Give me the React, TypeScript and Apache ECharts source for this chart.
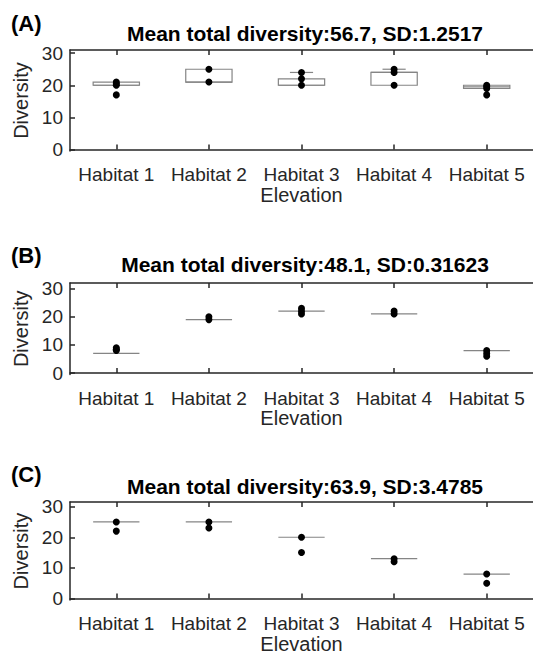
import React, { useEffect, useRef } from "react";
import * as echarts from "echarts";

const habitats = ["Habitat 1", "Habitat 2", "Habitat 3", "Habitat 4", "Habitat 5"];
const yTickValues = [0, 10, 20, 30];
const panelLetters = ["(A)", "(B)", "(C)"];
const panelTitles = [
  "Mean total diversity:56.7, SD:1.2517",
  "Mean total diversity:48.1, SD:0.31623",
  "Mean total diversity:63.9, SD:3.4785",
];
const xAxisName = "Elevation";
const yAxisName = "Diversity";

// box: [lower whisker, Q1, median, Q3, upper whisker]
const boxesA = [
  [20, 20, 20, 21, 21],
  [21, 21, 21, 25, 25],
  [20, 20, 20, 22, 24],
  [20, 20, 24, 24, 25],
  [19, 19, 19.5, 20, 20],
];
const pointsA = [
  [21, 20.5, 20, 17],
  [25, 21],
  [24, 22, 20],
  [25, 24, 20],
  [20, 19.5, 19, 17],
];
const boxesB = [
  [7, 7, 7, 7, 7],
  [19, 19, 19, 19, 19],
  [22, 22, 22, 22, 22],
  [21, 21, 21, 21, 21],
  [8, 8, 8, 8, 8],
];
const pointsB = [
  [9, 8.5, 8],
  [20, 19],
  [23, 22, 21],
  [22, 21],
  [8, 7, 6],
];
const boxesC = [
  [25, 25, 25, 25, 25],
  [25, 25, 25, 25, 25],
  [20, 20, 20, 20, 20],
  [13, 13, 13, 13, 13],
  [8, 8, 8, 8, 8],
];
const pointsC = [
  [25, 22],
  [25, 23],
  [20, 15],
  [13, 12],
  [8, 5],
];

const panelBoxes = [boxesA, boxesB, boxesC];
const panelPoints = [pointsA, pointsB, pointsC];

// layout (pixels)
const PLOT_LEFT = 70;
const PLOT_WIDTH = 470;
const panelLayout = [
  { top: 50, height: 101, yMin: -0.5, yMax: 31, letterY: 23, titleY: 33 },
  { top: 283, height: 91.5, yMin: -0.5, yMax: 32, letterY: 255, titleY: 264 },
  { top: 502, height: 101.5, yMin: -0.5, yMax: 31.5, letterY: 474, titleY: 486 },
];

const FONT = "Liberation Sans, Arial, Helvetica, sans-serif";
const AXIS_COLOR = "#262626";
const BOX_COLOR = "#858585";

export default function App() {
  const ref = useRef<HTMLDivElement>(null);

  useEffect(() => {
    if (!ref.current) return;
    const chart = echarts.init(ref.current, undefined, { renderer: "svg" });

    const grids: any[] = [];
    const xAxes: any[] = [];
    const yAxes: any[] = [];
    const series: any[] = [];
    const graphics: any[] = [];

    panelLayout.forEach((p, i) => {
      grids.push({ left: PLOT_LEFT, width: PLOT_WIDTH, top: p.top, height: p.height });
      const lineStyle = { color: AXIS_COLOR, width: 1.5 };
      xAxes.push({
        type: "category",
        gridIndex: i,
        position: "bottom",
        data: habitats,
        axisLine: { show: true, lineStyle },
        axisTick: { show: true, inside: true, alignWithLabel: true, interval: 0, length: 5, lineStyle },
        axisLabel: { interval: 0, fontSize: 19, color: AXIS_COLOR, margin: 14, fontFamily: FONT, hideOverlap: false },
        splitLine: { show: false },
        name: xAxisName,
        nameLocation: "middle",
        nameGap: 32,
        nameTextStyle: { fontSize: 20, color: AXIS_COLOR, fontFamily: FONT },
      });
      xAxes.push({
        type: "category",
        gridIndex: i,
        position: "top",
        data: habitats,
        axisLine: { show: true, lineStyle },
        axisTick: { show: true, inside: true, alignWithLabel: true, interval: 0, length: 5, lineStyle },
        axisLabel: { show: false },
        splitLine: { show: false },
      });
      yAxes.push({
        type: "value",
        gridIndex: i,
        min: p.yMin,
        max: p.yMax,
        axisLine: { show: true, lineStyle },
        axisTick: { show: true, inside: true, length: 5, lineStyle, customValues: yTickValues },
        axisLabel: {
          fontSize: 19,
          color: AXIS_COLOR,
          margin: 7,
          fontFamily: FONT,
          customValues: yTickValues,
        },
        splitLine: { show: false },
        name: yAxisName,
        nameLocation: "middle",
        nameGap: 28,
        nameTextStyle: { fontSize: 20, color: AXIS_COLOR, fontFamily: FONT },
      });

      series.push({
        type: "custom",
        xAxisIndex: 2 * i,
        yAxisIndex: i,
        data: panelBoxes[i].map((b, j) => [j, ...b]),
        renderItem: (params: any, api: any) => {
          const x = api.value(0);
          const lo = api.value(1);
          const q1 = api.value(2);
          const med = api.value(3);
          const q3 = api.value(4);
          const hi = api.value(5);
          const w = api.size([1, 0])[0] * 0.5;
          const pLo = api.coord([x, lo]);
          const pQ1 = api.coord([x, q1]);
          const pMed = api.coord([x, med]);
          const pQ3 = api.coord([x, q3]);
          const pHi = api.coord([x, hi]);
          const cx = pMed[0];
          const st = { stroke: BOX_COLOR, lineWidth: 1.2, fill: "none" };
          const children: any[] = [];
          if (q3 > q1) {
            children.push({
              type: "rect",
              shape: { x: cx - w / 2, y: pQ3[1], width: w, height: pQ1[1] - pQ3[1] },
              style: st,
            });
          }
          children.push({
            type: "line",
            shape: { x1: cx - w / 2, y1: pMed[1], x2: cx + w / 2, y2: pMed[1] },
            style: st,
          });
          if (hi > q3) {
            children.push({ type: "line", shape: { x1: cx, y1: pQ3[1], x2: cx, y2: pHi[1] }, style: st });
            children.push({
              type: "line",
              shape: { x1: cx - w / 4, y1: pHi[1], x2: cx + w / 4, y2: pHi[1] },
              style: st,
            });
          }
          if (lo < q1) {
            children.push({ type: "line", shape: { x1: cx, y1: pQ1[1], x2: cx, y2: pLo[1] }, style: st });
            children.push({
              type: "line",
              shape: { x1: cx - w / 4, y1: pLo[1], x2: cx + w / 4, y2: pLo[1] },
              style: st,
            });
          }
          return { type: "group", children };
        },
        z: 2,
      });

      const pts: number[][] = [];
      panelPoints[i].forEach((vals, j) => vals.forEach((v) => pts.push([j, v])));
      series.push({
        type: "scatter",
        xAxisIndex: 2 * i,
        yAxisIndex: i,
        data: pts,
        symbol: "circle",
        symbolSize: 7,
        itemStyle: { color: "#000000", opacity: 1 },
        z: 3,
      });

      graphics.push({
        type: "text",
        x: 11,
        y: p.letterY,
        style: {
          text: panelLetters[i],
          fontSize: 22,
          fontWeight: "bold",
          fontFamily: FONT,
          fill: "#000000",
          align: "left",
          verticalAlign: "middle",
        },
      });
      graphics.push({
        type: "text",
        x: PLOT_LEFT + PLOT_WIDTH / 2,
        y: p.titleY,
        style: {
          text: panelTitles[i],
          fontSize: 21,
          fontWeight: "bold",
          fontFamily: FONT,
          fill: "#000000",
          align: "center",
          verticalAlign: "middle",
        },
      });
    });

    chart.setOption({
      animation: false,
      backgroundColor: "#ffffff",
      grid: grids,
      xAxis: xAxes,
      yAxis: yAxes,
      series,
      graphic: graphics,
    });

    return () => chart.dispose();
  }, []);

  return (
    <div
      ref={ref}
      style={{ position: "fixed", left: 0, top: 0, width: 533, height: 655, background: "#fff" }}
    />
  );
}
